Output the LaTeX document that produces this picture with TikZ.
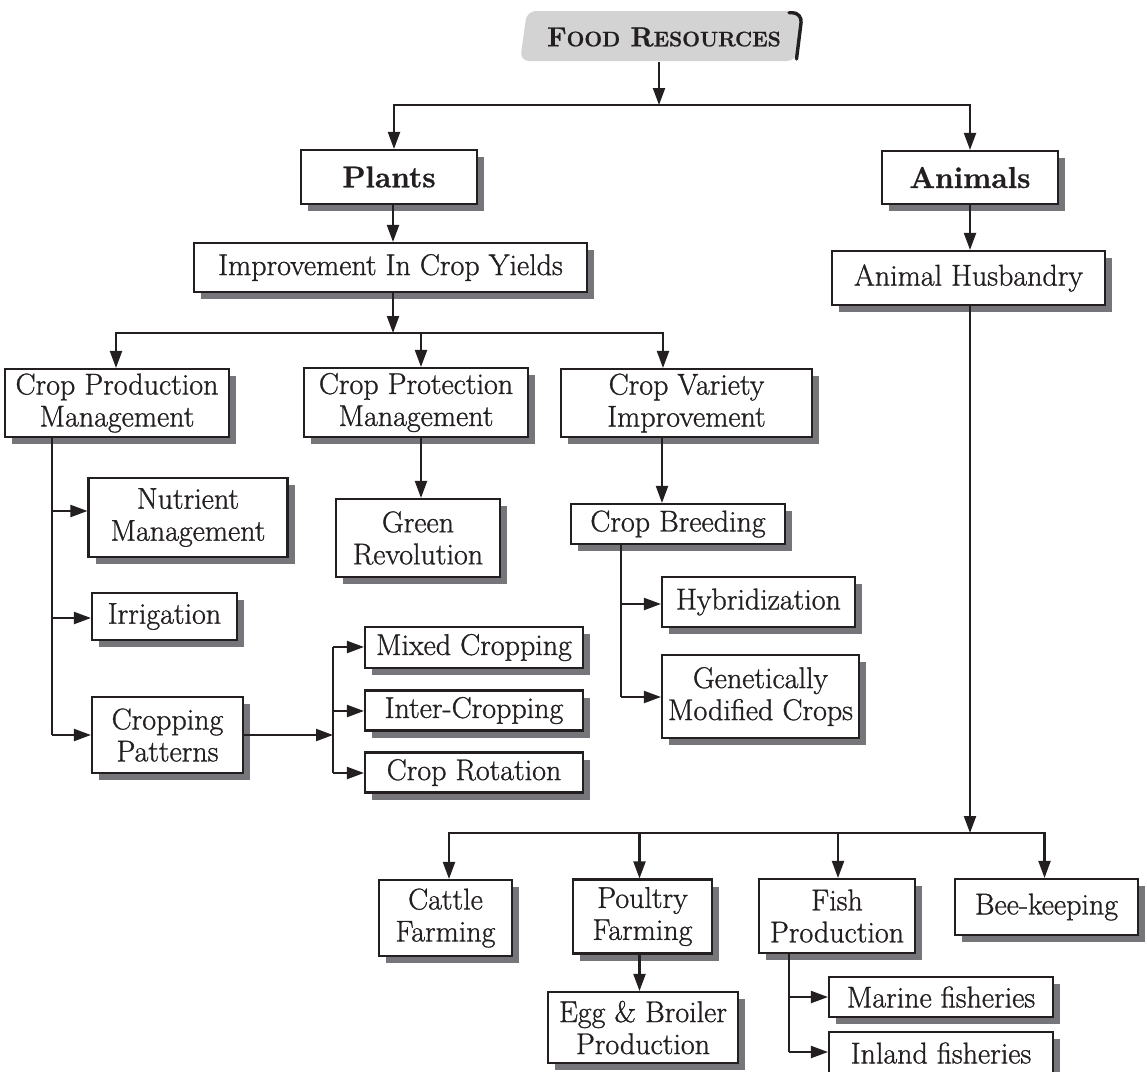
\documentclass[tikz,border=0pt]{standalone}
\usepackage{fontspec}
\setmainfont{Latin Modern Roman}[FakeBold=1.0]
\usetikzlibrary{arrows.meta,shadows,calc}
\definecolor{ink}{HTML}{231F20}
\definecolor{shade}{HTML}{76767A}
\definecolor{titlegray}{HTML}{D3D3D3}
\tikzset{
 box/.style={draw=ink, line width=2.1pt, fill=white, align=center, inner sep=0pt,
   font=\fontsize{30}{32}\selectfont, text=ink,
   drop shadow={shadow xshift=7pt, shadow yshift=-7pt, fill=shade, opacity=1}},
 bbox/.style={box, font=\fontsize{30}{32}\selectfont\bfseries},
 link/.style={draw=ink, line width=2.1pt},
 arr/.style={link, -{Triangle[length=17pt,width=12pt]}},
}
\begin{document}
\begin{tikzpicture}[x=1pt,y=-1pt]
\path[use as bounding box] (0,0) rectangle (1147,1071);
% title shape
\fill[titlegray, rounded corners=9pt] (520,61) -- (527,11) -- (802,11) -- (796,61) -- cycle;
\draw[ink, line width=3.4pt, rounded corners=10pt, line cap=round] (789,12.7) -- (802.3,12.7) -- (796.5,59);
\node[inner sep=0pt, minimum width=270pt, minimum height=50pt, text=ink] (title) at (664,37)
  {\fontsize{27.5}{28}\selectfont\bfseries F{\fontsize{21}{21}\selectfont OOD} R{\fontsize{21}{21}\selectfont ESOURCES}};
% boxes
\node[bbox, minimum width=176pt, minimum height=54pt] (plants) at (389,177) {Plants};
\node[bbox, minimum width=176pt, minimum height=53pt] (animals) at (970,177.5) {Animals};
\node[box, minimum width=393pt, minimum height=49pt] (improve) at (390.5,267.5) {Improvement In Crop Yields};
\node[box, minimum width=224pt, minimum height=68pt] (cpm) at (117,403) {Crop Production\\Management};
\node[box, minimum width=224pt, minimum height=69pt] (cprot) at (416,402.5) {Crop Protection\\Management};
\node[box, minimum width=251pt, minimum height=68pt] (cvar) at (686.5,403) {Crop Variety\\Improvement};
\node[box, minimum width=199pt, minimum height=79pt] (nutr) at (188,517.5) {Nutrient\\Management};
\node[box, minimum width=145pt, minimum height=47pt] (irrig) at (164.5,616.5) {Irrigation};
\node[box, minimum width=151pt, minimum height=76pt] (cpat) at (167.5,735) {Cropping\\Patterns};
\node[box, minimum width=218pt, minimum height=41pt] (mixed) at (474,647.5) {Mixed Cropping};
\node[box, minimum width=218pt, minimum height=40pt] (inter) at (474,710.5) {Inter-Cropping};
\node[box, minimum width=218pt, minimum height=40pt] (rot) at (474,772.5) {Crop Rotation};
\node[box, minimum width=164pt, minimum height=78pt] (green) at (418,538) {Green\\Revolution};
\node[box, minimum width=214pt, minimum height=40pt] (breed) at (678,524) {Crop Breeding};
\node[box, minimum width=193pt, minimum height=50pt] (hybrid) at (758.5,602) {Hybridization};
\node[box, minimum width=197pt, minimum height=83pt] (gm) at (760.5,696.5) {Genetically\\Modified Crops};
\node[box, minimum width=273pt, minimum height=54pt] (ah) at (968.5,278) {Animal Husbandry};
\node[box, minimum width=133pt, minimum height=76pt] (cattle) at (445.5,918) {Cattle\\Farming};
\node[box, minimum width=139pt, minimum height=74pt] (poultry) at (642.5,916.5) {Poultry\\Farming};
\node[box, minimum width=156pt, minimum height=74pt] (fish) at (837,916) {Fish\\Production};
\node[box, minimum width=183pt, minimum height=56pt] (bee) at (1046.5,907) {Bee-keeping};
\node[box, minimum width=190pt, minimum height=71pt] (egg) at (643,1027.5) {Egg \& Broiler\\Production};
\node[box, minimum width=224pt, minimum height=40pt] (marine) at (941,997) {Marine fisheries};
\node[box, minimum width=224pt, minimum height=42pt] (inland) at (941,1053) {Inland fisheries};
% connectors: top
\coordinate (j1) at (659,105);
\coordinate (ts) at ([xshift=-5pt]title.south);
\draw[arr] (ts) -- (j1);
\draw[arr] (j1) -| ([xshift=5pt]plants.north);
\draw[arr] (j1) -| (animals.north);
% plants side
\coordinate (ps) at ([xshift=4pt]plants.south);
\draw[arr] (ps) -- (ps |- improve.north);
\coordinate (j2) at (393,333);
\draw[arr] (improve.south -| j2) -- (j2);
\draw[arr] (j2) -| ([xshift=-1pt]cpm.north);
\draw[arr] (j2) -| ([xshift=5pt]cprot.north);
\draw[arr] (j2) -| ([xshift=-23.5pt]cvar.north);
% crop production branch
\coordinate (v1) at (52,735);
\draw[link] (cpm.south -| v1) -- (v1);
\coordinate (b1) at (52,511);
\draw[arr] (b1) -- (b1 -| nutr.west);
\coordinate (b2) at (52,618);
\draw[arr] (b2) -- (b2 -| irrig.west);
\draw[arr] (v1) -- (v1 -| cpat.west);
% cropping patterns
\coordinate (j3) at (333,735);
\draw[arr] (cpat.east) -- (j3);
\coordinate (j3t) at (333,647);
\coordinate (j3m) at (333,711);
\coordinate (j3b) at (333,773);
\draw[link] (j3t) -- (j3b);
\draw[arr] (j3t) -- (j3t -| mixed.west);
\draw[arr] (j3m) -- (j3m -| inter.west);
\draw[arr] (j3b) -- (j3b -| rot.west);
% protection
\coordinate (cps) at ([xshift=5pt]cprot.south);
\draw[arr] (cps) -- (cps |- green.north);
% variety
\coordinate (cvs) at ([xshift=-24.5pt]cvar.south);
\draw[arr] (cvs) -- (cvs |- breed.north);
\coordinate (v2) at (621,697);
\draw[link] (breed.south -| v2) -- (v2);
\coordinate (b3) at (621,604);
\draw[arr] (b3) -- (b3 -| hybrid.west);
\draw[arr] (v2) -- (v2 -| gm.west);
% animals side
\draw[arr] (animals.south) -- (animals.south |- ah.north);
\coordinate (j4) at (970,833);
\draw[arr] (ah.south -| j4) -- (j4);
\draw[arr] (j4) -| ([xshift=3.5pt]cattle.north);
\draw[arr] (j4) -| ([xshift=-3pt]poultry.north);
\draw[arr] (j4) -| ([xshift=1pt]fish.north);
\draw[arr] (j4) -| ([xshift=-2pt]bee.north);
\coordinate (pls) at ([xshift=-3pt]poultry.south);
\draw[arr] (pls) -- (pls |- egg.north);
\coordinate (v3) at (789,1052);
\draw[link] (fish.south -| v3) -- (v3);
\coordinate (b4) at (789,997);
\draw[arr] (b4) -- (b4 -| marine.west);
\draw[arr] (v3) -- (v3 -| inland.west);
\end{tikzpicture}
\end{document}
